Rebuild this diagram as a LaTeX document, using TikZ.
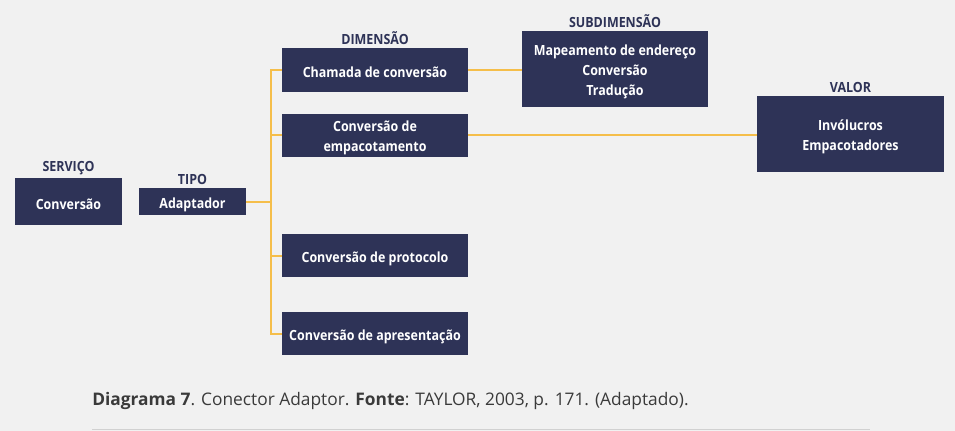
\documentclass[tikz,border=0pt]{standalone}
\usepackage{fontspec}
\setmainfont{Open Sans}
\newfontfamily\condb[FakeStretch=0.89]{Open Sans Bold}
\newfontfamily\capt{Open Sans}
\newfontfamily\captb{Open Sans Bold}
\definecolor{navy}{HTML}{2E3357}
\definecolor{gold}{HTML}{F5BE4A}
\definecolor{bg}{HTML}{F1F1F1}
\definecolor{capc}{HTML}{3A3A3A}
\newcommand\firstup{\rule{0pt}{12pt}}
\tikzset{
  box/.style={fill=navy, text=white, font=\condb\fontsize{10.5}{15}\selectfont, align=center, inner sep=0pt,
    execute at begin node={\rule{0pt}{13.5pt}}, execute at end node={\rule[-2pt]{0pt}{0pt}}},
  head/.style={text=navy, font=\condb\fontsize{10.5}{12}\selectfont, anchor=south, inner sep=2pt},
  link/.style={draw=gold, line width=1.5pt}
}
\begin{document}
\begin{tikzpicture}[x=0.75pt,y=-0.75pt]
\fill[bg] (0,0) rectangle (955,431);
\useasboundingbox (0,0) rectangle (955,431);
\node[box, minimum width=80.25pt, minimum height=35.25pt] (serv) at (68.5,201.5) {Conversão};
\node[box, minimum width=80.25pt, minimum height=20.25pt] (tipo) at (192.5,201.5) {Adaptador};
\node[box, minimum width=139.5pt, minimum height=33pt] (cham) at (375,70) {Chamada de conversão};
\node[box, minimum width=139.5pt, minimum height=32.25pt] (empa) at (375,135.5) {\firstup Conversão de\\empacotamento};
\node[box, minimum width=139.5pt, minimum height=32.25pt] (prot) at (375,255.5) {Conversão de protocolo};
\node[box, minimum width=139.5pt, minimum height=32.25pt] (apre) at (375,333.5) {Conversão de apresentação};
\node[box, minimum width=139.5pt, minimum height=57pt] (sub) at (615,69) {\firstup Mapeamento de endereço\\Conversão\\Tradução};
\node[box, minimum width=140.25pt, minimum height=57pt] (val) at (850.5,134) {\firstup Invólucros\\Empacotadores};
\node[head] (hserv) at (serv.north) {SERVIÇO};
\node[head] (htipo) at (tipo.north) {TIPO};
\node[head] (hcham) at (cham.north) {DIMENSÃO};
\node[head] (hsub) at (sub.north) {SUBDIMENSÃO};
\node[head] (hval) at (val.north) {VALOR};
\coordinate (j) at (271,201.5);
\draw[link] (tipo.east) -- (j);
\draw[link] (cham.west) -- (cham.west -| j) -- (apre.west -| j) -- (apre.west);
\draw[link] (empa.west) -- (empa.west -| j);
\draw[link] (prot.west) -- (prot.west -| j);
\draw[link] (cham.east) -- (cham.east -| sub.west);
\draw[link] (empa.east) -- (empa.east -| val.west);
\node[anchor=base west, inner sep=0pt, text=capc, font=\capt\fontsize{13}{15}\selectfont] (cap) at (92,405) {{\captb Diagrama 7}. Conector Adaptor. {\captb Fonte}: TAYLOR, 2003, p. 171. (Adaptado).};
\coordinate (r1) at (92,429.5);
\coordinate (r2) at (870,429.5);
\draw[draw=black!18, line width=0.75pt] (r1) -- (r2);
\end{tikzpicture}
\end{document}
